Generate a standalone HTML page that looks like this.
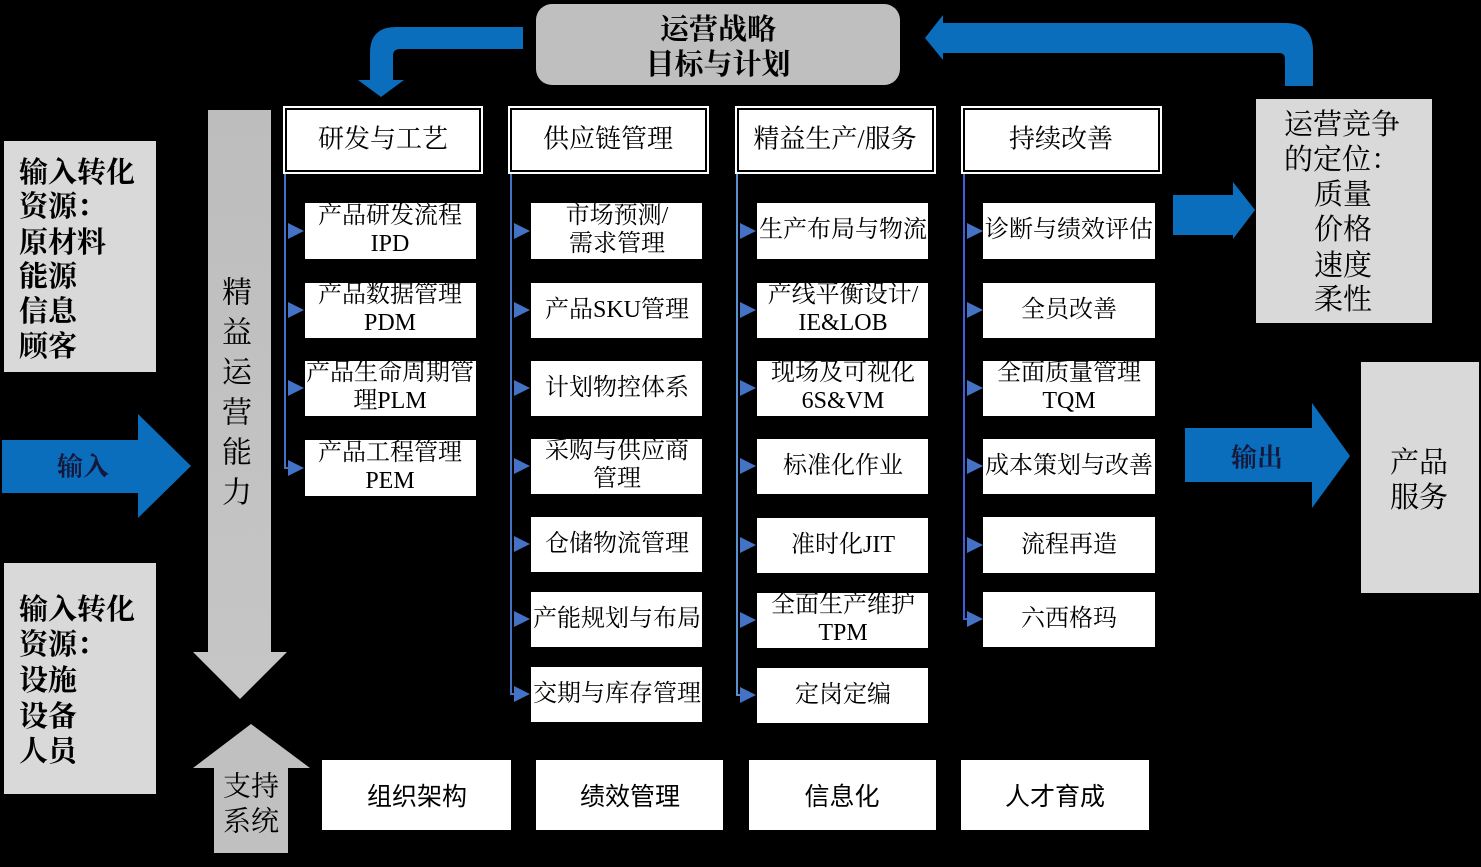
<!DOCTYPE html>
<html><head><meta charset="utf-8"><style>
html,body{margin:0;padding:0;background:#000;}
svg{display:block;}
.s{font-family:"Liberation Serif","Noto Serif CJK SC",serif;}
.ss{font-family:"Liberation Sans","Noto Sans CJK SC",sans-serif;}
</style></head><body>
<svg width="1481" height="867" viewBox="0 0 1481 867" xmlns="http://www.w3.org/2000/svg">
<rect x="0" y="0" width="1481" height="867" fill="#000"/>

<!-- top strategy box -->
<rect x="536" y="4" width="364" height="81" rx="16" fill="#bfbfbf"/>
<g class="s" font-size="29" font-weight="bold" fill="#000" text-anchor="middle" dominant-baseline="central">
<text x="718" y="30">运营战略</text>
<text x="718" y="65">目标与计划</text>
</g>

<!-- top-left blue curved arrow -->
<path d="M523,27 L396,27 Q370,27 370,53 L370,80 L358,80 L381,97 L404,80 L393,80 L393,56 Q393,49 400,49 L523,49 Z" fill="#0a6ebd"/>
<!-- top-right blue curved arrow -->
<path d="M1313,86 L1313,51 Q1313,23 1285,23 L943,23 L943,15 L925,38 L943,60 L943,53 L1279,53 Q1285,53 1285,59 L1285,86 Z" fill="#0a6ebd"/>

<!-- left boxes -->
<rect x="4" y="141" width="152" height="231" fill="#d9d9d9"/>
<g class="s" font-size="29" font-weight="bold" fill="#000" dominant-baseline="central">
<text x="19" y="173">输入转化</text>
<text x="19" y="207">资源：</text>
<text x="19" y="243">原材料</text>
<text x="19" y="277">能源</text>
<text x="19" y="312">信息</text>
<text x="19" y="347">顾客</text>
</g>
<rect x="4" y="563" width="152" height="231" fill="#d9d9d9"/>
<g class="s" font-size="29" font-weight="bold" fill="#000" dominant-baseline="central">
<text x="19" y="610">输入转化</text>
<text x="19" y="645">资源：</text>
<text x="19" y="681">设施</text>
<text x="19" y="717">设备</text>
<text x="19" y="752">人员</text>
</g>

<!-- input arrow -->
<path d="M2,440 L138,440 L138,414 L191,466 L138,518 L138,493 L2,493 Z" fill="#0a6ebd"/>
<text class="s" x="83" y="467" font-size="26" font-weight="bold" fill="#14183a" text-anchor="middle" dominant-baseline="central">输入</text>

<!-- gray down arrow -->
<defs>
<linearGradient id="g1" x1="0" y1="0" x2="0" y2="1">
<stop offset="0" stop-color="#bdbdbd"/><stop offset="1" stop-color="#c6c6c6"/>
</linearGradient>
</defs>
<path d="M208,110 L271,110 L271,652 L287,652 L240,699 L193,652 L208,652 Z" fill="url(#g1)"/>
<g class="s" font-size="30" fill="#000" text-anchor="middle" dominant-baseline="central">
<text x="237" y="293">精</text>
<text x="237" y="333">益</text>
<text x="237" y="373">运</text>
<text x="237" y="413">营</text>
<text x="237" y="453">能</text>
<text x="237" y="493">力</text>
</g>

<!-- gray up arrow -->
<path d="M251,724 L310,768 L288,768 L288,853 L214,853 L214,768 L193,768 Z" fill="#c0c0c0"/>
<g class="s" font-size="28" fill="#000" text-anchor="middle" dominant-baseline="central">
<text x="251" y="787">支持</text>
<text x="251" y="822">系统</text>
</g>

<!-- connectors -->
<g stroke="#4472c4" stroke-width="2" fill="none">
<polyline points="285,174 285,468 290,468"/>
<polyline points="511,174 511,694 516,694"/>
<polyline points="737,174 737,695 742,695" stroke="#5b8fd0"/>
<polyline points="964,174 964,619 969,619" stroke="#3f5fd8"/>
</g>
<g fill="#4472c4">
<!-- col1 -->
<path d="M288,223 L304,231 L288,239 Z"/>
<path d="M288,302 L304,310 L288,318 Z"/>
<path d="M288,380 L304,388 L288,396 Z"/>
<path d="M288,460 L304,468 L288,476 Z"/>
<!-- col2 -->
<path d="M514,223 L530,231 L514,239 Z"/>
<path d="M514,302 L530,310 L514,318 Z"/>
<path d="M514,380 L530,388 L514,396 Z"/>
<path d="M514,458 L530,466 L514,474 Z"/>
<path d="M514,536 L530,544 L514,552 Z"/>
<path d="M514,611 L530,619 L514,627 Z"/>
<path d="M514,686 L530,694 L514,702 Z"/>
<!-- col3 -->
<path d="M740,223 L756,231 L740,239 Z"/>
<path d="M740,302 L756,310 L740,318 Z"/>
<path d="M740,380 L756,388 L740,396 Z"/>
<path d="M740,458 L756,466 L740,474 Z"/>
<path d="M740,537 L756,545 L740,553 Z"/>
<path d="M740,612 L756,620 L740,628 Z"/>
<path d="M740,687 L756,695 L740,703 Z"/>
<!-- col4 -->
<path d="M967,223 L983,231 L967,239 Z"/>
<path d="M967,302 L983,310 L967,318 Z"/>
<path d="M967,380 L983,388 L967,396 Z"/>
<path d="M967,458 L983,466 L967,474 Z"/>
<path d="M967,537 L983,545 L967,553 Z"/>
<path d="M967,611 L983,619 L967,627 Z"/>
</g>

<!-- headers -->
<g fill="#fff">
<rect x="283" y="106" width="200" height="68"/>
<rect x="508" y="106" width="201" height="68"/>
<rect x="735" y="106" width="201" height="68"/>
<rect x="961" y="106" width="201" height="68"/>
</g>
<g fill="none" stroke="#000" stroke-width="2">
<rect x="286" y="109" width="194" height="62"/>
<rect x="511" y="109" width="195" height="62"/>
<rect x="738" y="109" width="195" height="62"/>
<rect x="964" y="109" width="195" height="62"/>
</g>
<g class="s" font-size="26" fill="#000" text-anchor="middle" dominant-baseline="central">
<text x="383" y="139">研发与工艺</text>
<text x="608" y="139">供应链管理</text>
<text x="835" y="139">精益生产/服务</text>
<text x="1061" y="139">持续改善</text>
</g>

<!-- sub boxes -->
<g fill="#fff">
<rect x="305" y="203" width="171" height="56"/>
<rect x="305" y="283" width="171" height="55"/>
<rect x="305" y="361" width="171" height="55"/>
<rect x="305" y="440" width="171" height="56"/>

<rect x="531" y="203" width="171" height="56"/>
<rect x="531" y="283" width="171" height="55"/>
<rect x="531" y="361" width="171" height="55"/>
<rect x="531" y="439" width="171" height="55"/>
<rect x="531" y="517" width="171" height="55"/>
<rect x="531" y="592" width="171" height="55"/>
<rect x="531" y="667" width="171" height="55"/>

<rect x="757" y="203" width="171" height="56"/>
<rect x="757" y="283" width="171" height="55"/>
<rect x="757" y="361" width="171" height="55"/>
<rect x="757" y="439" width="171" height="55"/>
<rect x="757" y="518" width="171" height="55"/>
<rect x="757" y="593" width="171" height="55"/>
<rect x="757" y="668" width="171" height="55"/>

<rect x="983" y="203" width="172" height="56"/>
<rect x="983" y="283" width="172" height="55"/>
<rect x="983" y="361" width="172" height="55"/>
<rect x="983" y="439" width="172" height="55"/>
<rect x="983" y="517" width="172" height="56"/>
<rect x="983" y="592" width="172" height="55"/>
</g>
<g class="s" font-size="24" fill="#000" text-anchor="middle" dominant-baseline="central">
<!-- col1 -->
<text x="390" y="216">产品研发流程</text>
<text x="390" y="244">IPD</text>
<text x="390" y="295">产品数据管理</text>
<text x="390" y="323">PDM</text>
<text x="390" y="373">产品生命周期管</text>
<text x="390" y="401">理PLM</text>
<text x="390" y="453">产品工程管理</text>
<text x="390" y="481">PEM</text>
<!-- col2 -->
<text x="617" y="216">市场预测/</text>
<text x="617" y="244">需求管理</text>
<text x="617" y="310">产品SKU管理</text>
<text x="617" y="388">计划物控体系</text>
<text x="617" y="451">采购与供应商</text>
<text x="617" y="479">管理</text>
<text x="617" y="544">仓储物流管理</text>
<text x="617" y="619">产能规划与布局</text>
<text x="617" y="694">交期与库存管理</text>
<!-- col3 -->
<text x="843" y="230">生产布局与物流</text>
<text x="843" y="295">产线平衡设计/</text>
<text x="843" y="323">IE&amp;LOB</text>
<text x="843" y="373">现场及可视化</text>
<text x="843" y="401">6S&amp;VM</text>
<text x="843" y="466">标准化作业</text>
<text x="843" y="545">准时化JIT</text>
<text x="843" y="605">全面生产维护</text>
<text x="843" y="633">TPM</text>
<text x="843" y="695">定岗定编</text>
<!-- col4 -->
<text x="1069" y="230">诊断与绩效评估</text>
<text x="1069" y="310">全员改善</text>
<text x="1069" y="373">全面质量管理</text>
<text x="1069" y="401">TQM</text>
<text x="1069" y="466">成本策划与改善</text>
<text x="1069" y="545">流程再造</text>
<text x="1069" y="619">六西格玛</text>
</g>

<!-- bottom support boxes -->
<g fill="#fff">
<rect x="322" y="760" width="189" height="70"/>
<rect x="536" y="760" width="187" height="70"/>
<rect x="749" y="760" width="187" height="70"/>
<rect x="961" y="760" width="188" height="70"/>
</g>
<g class="ss" font-size="25" fill="#000" text-anchor="middle" dominant-baseline="central">
<text x="417" y="797">组织架构</text>
<text x="630" y="797">绩效管理</text>
<text x="842" y="797">信息化</text>
<text x="1055" y="797">人才育成</text>
</g>

<!-- arrow to competition box -->
<path d="M1173,195 L1233,195 L1233,182 L1255,210 L1233,239 L1233,235 L1173,235 Z" fill="#0a6ebd"/>
<rect x="1256" y="99" width="176" height="224" fill="#d9d9d9"/>
<g class="s" font-size="29" fill="#000" dominant-baseline="central">
<text x="1284" y="125">运营竞争</text>
<text x="1284" y="160">的定位：</text>
</g>
<g class="s" font-size="29" fill="#000" text-anchor="middle" dominant-baseline="central">
<text x="1343" y="195">质量</text>
<text x="1343" y="230">价格</text>
<text x="1343" y="266">速度</text>
<text x="1343" y="300">柔性</text>
</g>

<!-- output arrow -->
<path d="M1185,428 L1312,428 L1312,403 L1350,456 L1312,508 L1312,482 L1185,482 Z" fill="#0a6ebd"/>
<text class="s" x="1257" y="458" font-size="26" font-weight="bold" fill="#14183a" text-anchor="middle" dominant-baseline="central">输出</text>

<rect x="1361" y="362" width="118" height="231" fill="#d9d9d9"/>
<g class="s" font-size="29" fill="#000" text-anchor="middle" dominant-baseline="central">
<text x="1419" y="463">产品</text>
<text x="1419" y="498">服务</text>
</g>
</svg>
</body></html>
